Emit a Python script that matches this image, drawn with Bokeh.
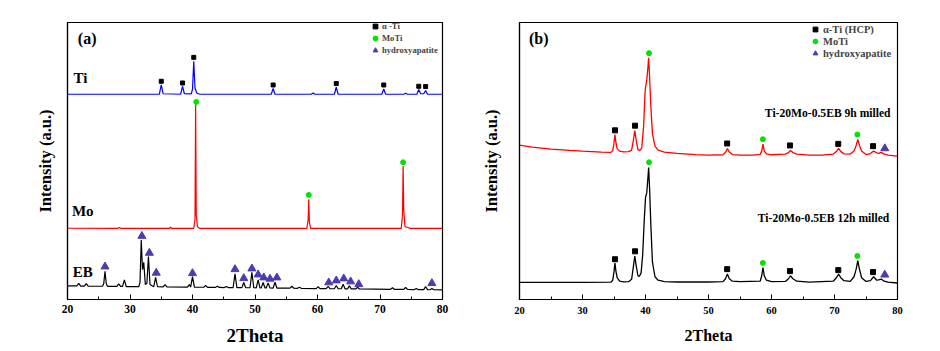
from bokeh.plotting import figure
from bokeh.models import FixedTicker, Label, Legend, LegendItem, Range1d
from bokeh.layouts import row
from bokeh.embed import file_html
from bokeh.resources import INLINE

FONT = "Liberation Serif"

# ---------------- Panel (a) data: intensity in arbitrary units ----------------
ti_pts = [(20, 206), (34.7, 206), (35.0, 215.5), (35.3, 206.5), (38.1, 206), (38.4, 214),
          (38.7, 206.5), (39.8, 206.3), (40.0, 211), (40.2, 239), (40.4, 212), (40.7, 207),
          (41.2, 206), (52.6, 206), (52.9, 211.7), (53.2, 206), (59.0, 206), (59.3, 207.3),
          (59.6, 206), (62.7, 206), (63.0, 213), (63.3, 206), (70.3, 206), (70.6, 211.3),
          (70.9, 206), (73.8, 206), (74.1, 207), (74.4, 206), (75.9, 206), (76.2, 210.7),
          (76.5, 206.5), (77.0, 206.5), (77.3, 209.7), (77.6, 206), (80, 206)]

mo_pts = [(20, 71.5), (28, 71.3), (28.3, 72.3), (28.6, 71.3), (36.3, 71.3), (36.5, 72.5),
          (36.7, 71.3), (40.2, 71.3), (40.4, 80), (40.5, 195.7), (40.6, 85), (40.8, 73),
          (41.2, 71.3), (58.3, 71.3), (58.5, 80), (58.6, 100.7), (58.7, 78), (58.9, 71.3),
          (73.4, 71.3), (73.6, 85), (73.7, 134), (73.8, 90), (74.0, 73), (74.6, 72),
          (74.8, 71.3), (80, 71.3)]

eb_pts = [(20.0, 13.7), (21.5, 13.6), (21.8, 16.3), (22.1, 13.5), (22.7, 13.5), (23.0, 16.0),
          (23.3, 13.4), (25.6, 13.3), (25.8, 16), (26.0, 28.3), (26.2, 16), (26.4, 13.2),
          (27.9, 13.1), (28.2, 15.7), (28.5, 13.1), (28.8, 13.1), (29.1, 19.7), (29.4, 13.0),
          (31.4, 12.9), (31.6, 17), (31.8, 59.7), (32.0, 30), (32.2, 37.3), (32.45, 15),
          (32.7, 16), (32.95, 43), (33.2, 15), (33.8, 12.8), (34.1, 22.3), (34.4, 12.8),
          (35.3, 12.7), (35.6, 15), (35.9, 12.7), (39.2, 12.4), (39.5, 15), (39.7, 12.5),
          (40.0, 23), (40.3, 12.4), (41.8, 12.3), (42.1, 14), (42.4, 12.2), (43.7, 12.2),
          (44.0, 13.3), (44.3, 12.1), (45.1, 12.0), (45.4, 13), (45.7, 12.0), (46.5, 12),
          (46.8, 25.7), (47.1, 11.9), (47.9, 11.9), (48.2, 17), (48.5, 11.8), (49.2, 11.8),
          (49.5, 27.3), (49.8, 11.8), (50.2, 11.7), (50.5, 19.7), (50.8, 11.7), (51.0, 11.7),
          (51.3, 17), (51.6, 11.6), (51.8, 11.6), (52.1, 16.7), (52.4, 11.6), (52.9, 11.5),
          (53.2, 17.3), (53.5, 11.5), (55.6, 11.4), (55.9, 13.3), (56.2, 11.3), (56.8, 11.2),
          (57.1, 12.3), (57.4, 11.2), (59.8, 11.0), (60.1, 13), (60.4, 11.0), (61.4, 10.9),
          (61.7, 13.3), (62.0, 10.9), (62.7, 10.8), (63.0, 14), (63.3, 10.8), (63.8, 10.8),
          (64.1, 15.3), (64.4, 10.7), (64.8, 10.7), (65.1, 13.7), (65.4, 10.7), (66.1, 10.6),
          (66.4, 12.3), (66.7, 10.6), (71.7, 10.2), (72.0, 11.7), (72.3, 10.2), (73.8, 10.1),
          (74.1, 12), (74.4, 10.1), (75.5, 10.0), (75.8, 11), (76.1, 10.0), (77.0, 9.9),
          (77.3, 13), (77.6, 9.9), (78.0, 9.8), (78.3, 11), (78.6, 9.8), (80.0, 9.7)]

a_ti_mark_x = [35.0, 38.4, 40.2, 52.9, 63.0, 70.6, 76.2, 77.3]
a_ti_mark_y = [219, 217.3, 243, 215.3, 216.7, 215.3, 214, 213.7]
a_mo_mark_x = [40.6, 58.6, 73.7]
a_mo_mark_y = [198.3, 105, 137.7]
a_ha_mark_x = [26.0, 31.9, 33.1, 34.2, 40.0, 46.8, 48.2, 49.5, 50.5, 51.4, 52.4, 53.5,
               61.8, 63.0, 64.2, 65.3, 66.6, 78.3]
a_ha_mark_y = [33, 63.7, 46.7, 26.7, 26.3, 30.3, 21.3, 31, 25, 22, 20.7, 22,
               17, 19, 21, 18, 15.3, 16.3]

# ---------------- Panel (b) data ----------------
b9_pts = [(20, 156), (22, 154), (25, 152), (28, 150.7), (30, 150), (33, 149), (34.5, 148.7),
          (34.8, 150.5), (35.0, 158), (35.15, 166.7), (35.3, 159), (35.5, 152.5), (35.9, 150),
          (36.5, 149.3), (37.3, 149.5), (37.8, 151), (38.05, 160), (38.3, 170.7), (38.55, 160),
          (38.8, 151.5), (39.1, 150.5), (39.4, 153), (39.7, 175), (39.95, 212), (40.2, 222),
          (40.35, 232), (40.5, 244.3), (40.65, 225), (40.85, 195), (41.1, 168), (41.5, 155),
          (42.0, 151), (43, 149), (45, 147.7), (48, 146.5), (50, 146), (52.3, 146.3),
          (52.7, 148.5), (53.0, 152.7), (53.3, 149), (53.8, 146.5), (55, 146), (57, 146),
          (58.2, 146.7), (58.45, 150), (58.65, 157), (58.85, 150), (59.2, 147.3), (60, 146.3),
          (62.2, 147), (62.7, 148.5), (63.0, 150.7), (63.4, 148.5), (64, 147), (66, 146),
          (68, 146), (69.8, 147), (70.3, 149.5), (70.65, 152.7), (71.0, 149.5), (71.5, 147.2),
          (72.5, 147), (73.1, 150), (73.45, 156), (73.7, 161.7), (73.95, 156), (74.3, 150),
          (75, 146.5), (75.7, 147.5), (76.2, 150), (76.7, 148.3), (77.0, 147.8), (77.4, 148.7),
          (77.9, 147), (78.5, 146), (80, 145)]

b12_pts = [(20, 17.3), (25, 17.3), (30, 17.3), (34.5, 17.5), (34.8, 19.5), (35.0, 28),
           (35.15, 36.7), (35.3, 29), (35.5, 22), (35.9, 18.5), (36.5, 17.8), (37.3, 18),
           (37.8, 20.5), (38.05, 32), (38.3, 44), (38.55, 33), (38.8, 24), (39.0, 23.3),
           (39.3, 26.7), (39.55, 45), (39.8, 80), (40.0, 103), (40.2, 108), (40.35, 120),
           (40.5, 133.3), (40.65, 112), (40.85, 75), (41.1, 38), (41.5, 23), (42.0, 19.5),
           (43, 18), (45, 17.7), (50, 17.7), (52.3, 18), (52.7, 21), (53.0, 25.7), (53.3, 21),
           (53.8, 18.5), (55, 18), (58.2, 18.5), (58.45, 24), (58.65, 32.3), (58.85, 24),
           (59.2, 19.5), (60, 18), (62.2, 18.3), (62.7, 21), (63.0, 24), (63.4, 21), (64, 18.5),
           (66, 17.5), (69.8, 18.5), (70.3, 22), (70.65, 25.7), (71.0, 22), (71.5, 19),
           (72.5, 18.3), (73.1, 23), (73.45, 31), (73.7, 39.3), (73.95, 31), (74.3, 22),
           (75, 18.3), (75.7, 19), (76.2, 23), (76.7, 19.5), (77.0, 19.8), (77.4, 20.7),
           (77.9, 18.5), (78.5, 17.5), (80, 16.7)]

b_ti_mark_x = [35.16, 38.34, 52.96, 62.93, 70.6, 76.12, 35.16, 38.34, 52.96, 62.93, 70.6, 76.12]
b_ti_mark_y = [171, 175.7, 157.7, 155.7, 157.3, 155, 40.7, 48.7, 30.7, 28.7, 29.7, 27.7]
b_mo_mark_x = [40.56, 58.63, 73.63, 40.56, 58.63, 73.63]
b_mo_mark_y = [249, 162, 166.7, 138.7, 37, 44]
b_ha_mark_x = [77.98, 77.98]
b_ha_mark_y = [152.7, 25]

x_ticks = [20, 30, 40, 50, 60, 70, 80]
x_minor = [25, 35, 45, 55, 65, 75]

GREEN = "#00e400"
PURPLE = "#4b3caf"


def xy(pts):
    return [p[0] for p in pts], [p[1] for p in pts]


def make_fig(ymax, bl, br, bt, bb, tick_fs, tick_standoff, xlab_fs, xlab_standoff, ylab_standoff):
    p = figure(width=470, height=351, x_range=Range1d(20, 80), y_range=Range1d(0, ymax),
               output_backend="svg", toolbar_location=None,
               min_border_left=bl, min_border_right=br, min_border_top=bt, min_border_bottom=bb)
    p.background_fill_color = "white"
    p.border_fill_color = "white"
    p.outline_line_color = "black"
    p.outline_line_width = 1.2
    p.xgrid.visible = False
    p.ygrid.visible = False
    p.xaxis.ticker = FixedTicker(ticks=x_ticks, minor_ticks=x_minor)
    p.xaxis.major_tick_in = 5
    p.xaxis.major_tick_out = 0
    p.xaxis.minor_tick_in = 3
    p.xaxis.minor_tick_out = 0
    p.xaxis.axis_line_width = 1.2
    p.xaxis.major_label_text_font = FONT
    p.xaxis.major_label_text_font_style = "bold"
    p.xaxis.major_label_text_font_size = tick_fs
    p.xaxis.major_label_text_color = "black"
    p.xaxis.major_label_standoff = tick_standoff
    p.xaxis.axis_label = "2Theta"
    p.xaxis.axis_label_text_font = FONT
    p.xaxis.axis_label_text_font_style = "bold"
    p.xaxis.axis_label_text_font_size = xlab_fs
    p.xaxis.axis_label_text_color = "black"
    p.xaxis.axis_label_standoff = xlab_standoff
    p.yaxis.ticker = FixedTicker(ticks=[])
    p.yaxis.major_tick_line_color = None
    p.yaxis.minor_tick_line_color = None
    p.yaxis.axis_line_width = 1.2
    p.yaxis.axis_label = "Intensity (a.u.)"
    p.yaxis.axis_label_text_font = FONT
    p.yaxis.axis_label_text_font_style = "bold"
    p.yaxis.axis_label_text_font_size = "16.5px"
    p.yaxis.axis_label_text_color = "black"
    p.yaxis.axis_label_standoff = ylab_standoff
    return p


def add_label(p, x, y, text, size, align="left"):
    p.add_layout(Label(x=x, y=y, text=text, text_font=FONT, text_font_style="bold",
                       text_font_size=size, text_color="black", text_align=align,
                       text_baseline="middle"))


# ---------------- Panel (a) ----------------
p1 = make_fig(278, 67, 28, 21, 52, "11.5px", 5, "19px", 9, 13)
tx, ty = xy(ti_pts)
mx, my = xy(mo_pts)
ex, ey = xy(eb_pts)
p1.line(tx, ty, line_color="#0000ff", line_width=1.2)
p1.line(mx, my, line_color="#ff0000", line_width=1.2)
p1.line(ex, ey, line_color="black", line_width=1.2)
r1 = p1.scatter(a_ti_mark_x, a_ti_mark_y, marker="square", size=4, color="black")
r2 = p1.scatter(a_mo_mark_x, a_mo_mark_y, marker="circle", size=5, color=GREEN)
r3 = p1.scatter(a_ha_mark_x, a_ha_mark_y, marker="triangle", size=8, color=PURPLE)
leg1 = Legend(items=[LegendItem(label="α -Ti", renderers=[r1]),
                     LegendItem(label="MoTi", renderers=[r2]),
                     LegendItem(label="hydroxyapatite", renderers=[r3])],
              location=(302, 243), label_text_font=FONT, label_text_font_style="bold",
              label_text_font_size="8.6px", glyph_width=12, glyph_height=12, label_height=12,
              spacing=-3, padding=0, margin=0, label_standoff=1,
              border_line_color=None, background_fill_alpha=0)
p1.add_layout(leg1)
add_label(p1, 21.65, 262, "(a)", "16px")
add_label(p1, 20.96, 222, "Ti", "15px")
add_label(p1, 20.7, 89, "Mo", "15px")
add_label(p1, 20.85, 28, "EB", "15px")

# ---------------- Panel (b) ----------------
p2 = make_fig(280, 49, 43, 22, 49, "10.5px", 7, "16px", 10, 19)
ax, ay = xy(b9_pts)
bx, by = xy(b12_pts)
p2.line(ax, ay, line_color="#ff0000", line_width=1.3)
p2.line(bx, by, line_color="black", line_width=1.3)
s1 = p2.scatter(b_ti_mark_x, b_ti_mark_y, marker="square", size=5, color="black")
s2 = p2.scatter(b_mo_mark_x, b_mo_mark_y, marker="circle", size=5, color=GREEN)
s3 = p2.scatter(b_ha_mark_x, b_ha_mark_y, marker="triangle", size=8, color=PURPLE)
leg2 = Legend(items=[LegendItem(label="α-Ti (HCP)", renderers=[s1]),
                     LegendItem(label="MoTi", renderers=[s2]),
                     LegendItem(label="hydroxyapatite", renderers=[s3])],
              location=(290, 240), label_text_font=FONT, label_text_font_style="bold",
              label_text_font_size="10.5px", glyph_width=12, glyph_height=12, label_height=12,
              spacing=0, padding=0, margin=0, label_standoff=2,
              border_line_color=None, background_fill_alpha=0)
p2.add_layout(leg2)
add_label(p2, 21.5, 263.5, "(b)", "16px")
add_label(p2, 78.9, 187.7, "Ti-20Mo-0.5EB 9h milled", "11.6px", align="right")
add_label(p2, 78.7, 81.7, "Ti-20Mo-0.5EB 12h milled", "11.6px", align="right")

layout = row(p1, p2)
open("out.html", "w").write(file_html(layout, INLINE))
